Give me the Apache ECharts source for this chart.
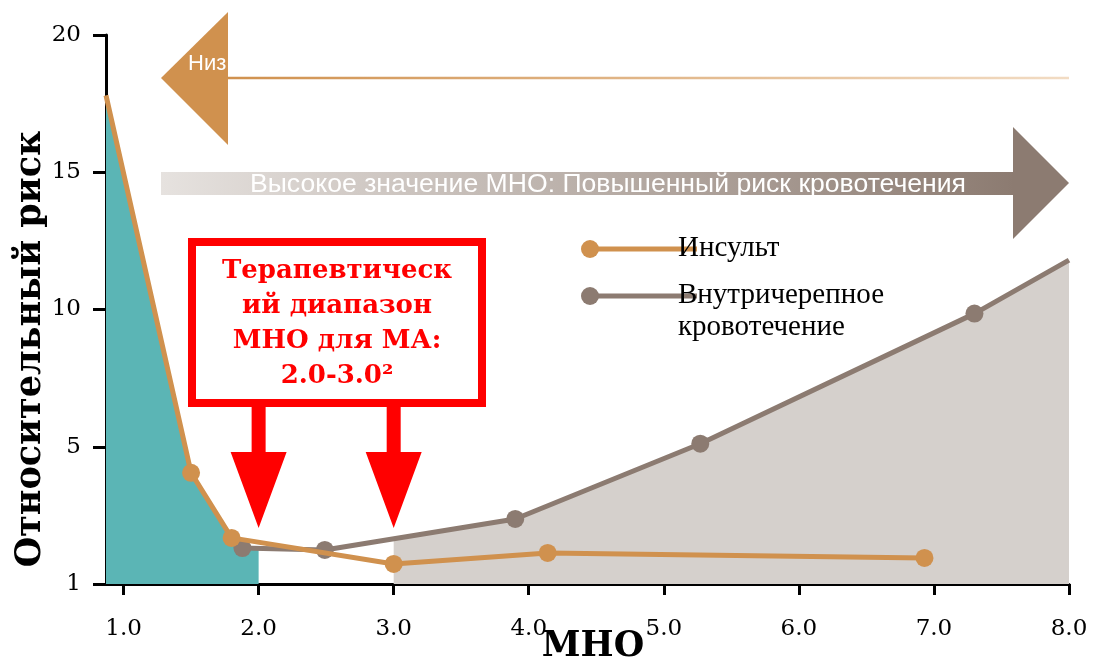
<!DOCTYPE html>
<html>
<head>
<meta charset="utf-8">
<script src="https://cdn.jsdelivr.net/npm/echarts@6/dist/echarts.min.js"></script>
<style>html,body{margin:0;padding:0;background:#fff;}#c{width:1093px;height:663px;}</style>
</head>
<body>
<div id="c"></div>
<script>
// ---- data ----
const strokeData = [[0.87, 17.8], [1.5, 4.05], [1.8, 1.68], [3.0, 0.73], [4.14, 1.13], [6.93, 0.95]];
const bleedData  = [[1.88, 1.31], [2.49, 1.24], [3.9, 2.37], [5.27, 5.11], [7.3, 9.85], [8.0, 11.8]];
const lowZone    = [[0.87, 17.8], [1.5, 4.05], [1.8, 1.68], [1.88, 1.31], [2.0, 1.29]];
const highZone   = [[3.0, 1.65], [3.9, 2.37], [5.27, 5.11], [7.3, 9.85], [8.0, 11.8]];
const xTicks = [1, 2, 3, 4, 5, 6, 7, 8];
const yTicks = [0, 5, 10, 15, 20];
const rangeMarks = [2.0, 3.0];
const seriesNames = ['Инсульт', 'Внутричерепное кровотечение'];
const xTitle = 'МНО';
const yTitle = 'Относительный риск';
const boxLines = ['Терапевтическ', 'ий диапазон', 'МНО для МА:', '2.0-3.0²'];
const highText = 'Высокое значение МНО: Повышенный риск кровотечения';
const lowText = 'Низ';

const ORANGE = '#D0914E', BROWN = '#8C7B71', TEAL = '#5BB5B5', LIGHT = '#D5D0CC';

const chart = echarts.init(document.getElementById('c'));
chart.setOption({
  animation: false,
  backgroundColor: '#fff',
  grid: { left: 106, right: 24, top: 35, bottom: 79, containLabel: false, outerBoundsMode: 'none' },
  xAxis: {
    type: 'value', min: 0.87, max: 8.0,
    axisLine: { show: true, lineStyle: { color: '#000', width: 3 } },
    axisTick: { show: true, customValues: xTicks, length: 11, lineStyle: { color: '#000', width: 3 } },
    axisLabel: { customValues: xTicks, formatter: v => v.toFixed(1), margin: 34,
      fontFamily: 'DejaVu Serif', fontSize: 23, color: '#000' },
    splitLine: { show: false }
  },
  yAxis: {
    type: 'value', min: 0, max: 20, interval: 5,
    axisLine: { show: true, lineStyle: { color: '#000', width: 3 } },
    axisTick: { show: true, length: 13, lineStyle: { color: '#000', width: 3 } },
    axisLabel: { formatter: v => (v === yTicks[0] ? '1' : String(v)), margin: 25,
      fontFamily: 'DejaVu Serif', fontSize: 23, color: '#000' },
    splitLine: { show: false }
  },
  series: [
    { type: 'line', data: highZone, symbol: 'none', silent: true, z: 1,
      lineStyle: { width: 0 }, areaStyle: { color: LIGHT, opacity: 1 } },
    { type: 'line', data: lowZone, symbol: 'none', silent: true, z: 1,
      lineStyle: { width: 0 }, areaStyle: { color: TEAL, opacity: 1 } },
    { type: 'line', name: seriesNames[1], z: 3,
      data: bleedData.map((p, i) => i === bleedData.length - 1 ? { value: p, symbol: 'none' } : p),
      symbol: 'circle', symbolSize: 18, showAllSymbol: true,
      lineStyle: { color: BROWN, width: 5 }, itemStyle: { color: BROWN } },
    { type: 'line', name: seriesNames[0], z: 4,
      data: strokeData.map((p, i) => i === 0 ? { value: p, symbol: 'none' } : p),
      symbol: 'circle', symbolSize: 18, showAllSymbol: true,
      lineStyle: { color: ORANGE, width: 5 }, itemStyle: { color: ORANGE } }
  ]
});

// ---- annotations ----
const g = [];
// axis titles
g.push({ type: 'text', z: 10, x: 31, y: 349, rotation: Math.PI / 2,
  style: { text: yTitle, x: 0, y: 0, textAlign: 'center', textVerticalAlign: 'middle',
    font: 'bold 35px "DejaVu Serif"', fill: '#000' } });
g.push({ type: 'text', z: 10, style: { text: xTitle, x: 593, y: 647, textAlign: 'center', textVerticalAlign: 'middle',
    font: 'bold 35px "DejaVu Serif"', fill: '#000' } });
// low-INR arrow (left pointing)
g.push({ type: 'line', z: 5, shape: { x1: 228, y1: 78, x2: 1069, y2: 78 },
  style: { lineWidth: 2.5, stroke: new echarts.graphic.LinearGradient(0, 0, 1, 0,
    [{ offset: 0, color: ORANGE }, { offset: 1, color: '#F2DCC4' }]) } });
g.push({ type: 'polygon', z: 5, shape: { points: [[228, 12], [228, 145], [161, 78]] }, style: { fill: ORANGE } });
g.push({ type: 'text', z: 6, style: { text: lowText, x: 188, y: 64, textVerticalAlign: 'middle',
  font: '22px "Liberation Sans"', fill: '#fff' } });
// high-INR arrow (right pointing)
g.push({ type: 'rect', z: 5, shape: { x: 161, y: 172, width: 853, height: 23 },
  style: { fill: new echarts.graphic.LinearGradient(0, 0, 1, 0,
    [{ offset: 0, color: '#E6E2DF' }, { offset: 1, color: BROWN }]) } });
g.push({ type: 'polygon', z: 5, shape: { points: [[1013, 127], [1013, 239], [1069, 183]] }, style: { fill: BROWN } });
g.push({ type: 'text', z: 6, style: { text: highText, x: 250, y: 185, textVerticalAlign: 'middle',
  font: '26.6px "Liberation Sans"', fill: '#fff' } });
// therapeutic range box
g.push({ type: 'rect', z: 7, shape: { x: 192, y: 242, width: 290, height: 161 },
  style: { fill: '#fff', stroke: '#FF0000', lineWidth: 8 } });
g.push({ type: 'text', z: 8, style: { text: boxLines.join('\n'), x: 337, y: 254, textAlign: 'center',
  textVerticalAlign: 'top', font: 'bold 26px "DejaVu Serif"', fill: '#FF0000', lineHeight: 35 } });
// red arrows pointing at the range limits
rangeMarks.forEach(v => {
  const px = chart.convertToPixel({ xAxisIndex: 0 }, v);
  g.push({ type: 'polygon', z: 8, shape: { points: [
    [px - 7, 403], [px + 7, 403], [px + 7, 452], [px + 28, 452], [px, 528], [px - 28, 452], [px - 7, 452]
  ] }, style: { fill: '#FF0000' } });
});
// legend
const legendRows = [{ y: 249, color: ORANGE, text: seriesNames[0] }, { y: 296, color: BROWN, text: 'Внутричерепное\nкровотечение' }];
legendRows.forEach(r => {
  g.push({ type: 'line', z: 9, shape: { x1: 590, y1: r.y, x2: 697, y2: r.y }, style: { stroke: r.color, lineWidth: 5 } });
  g.push({ type: 'circle', z: 9, shape: { cx: 590, cy: r.y, r: 9 }, style: { fill: r.color } });
  g.push({ type: 'text', z: 10, style: { text: r.text, x: 678, y: r.y - 17, textVerticalAlign: 'top',
    font: '29px "Liberation Serif"', fill: '#000', lineHeight: 32 } });
});
chart.setOption({ graphic: g });
</script>
</body>
</html>
